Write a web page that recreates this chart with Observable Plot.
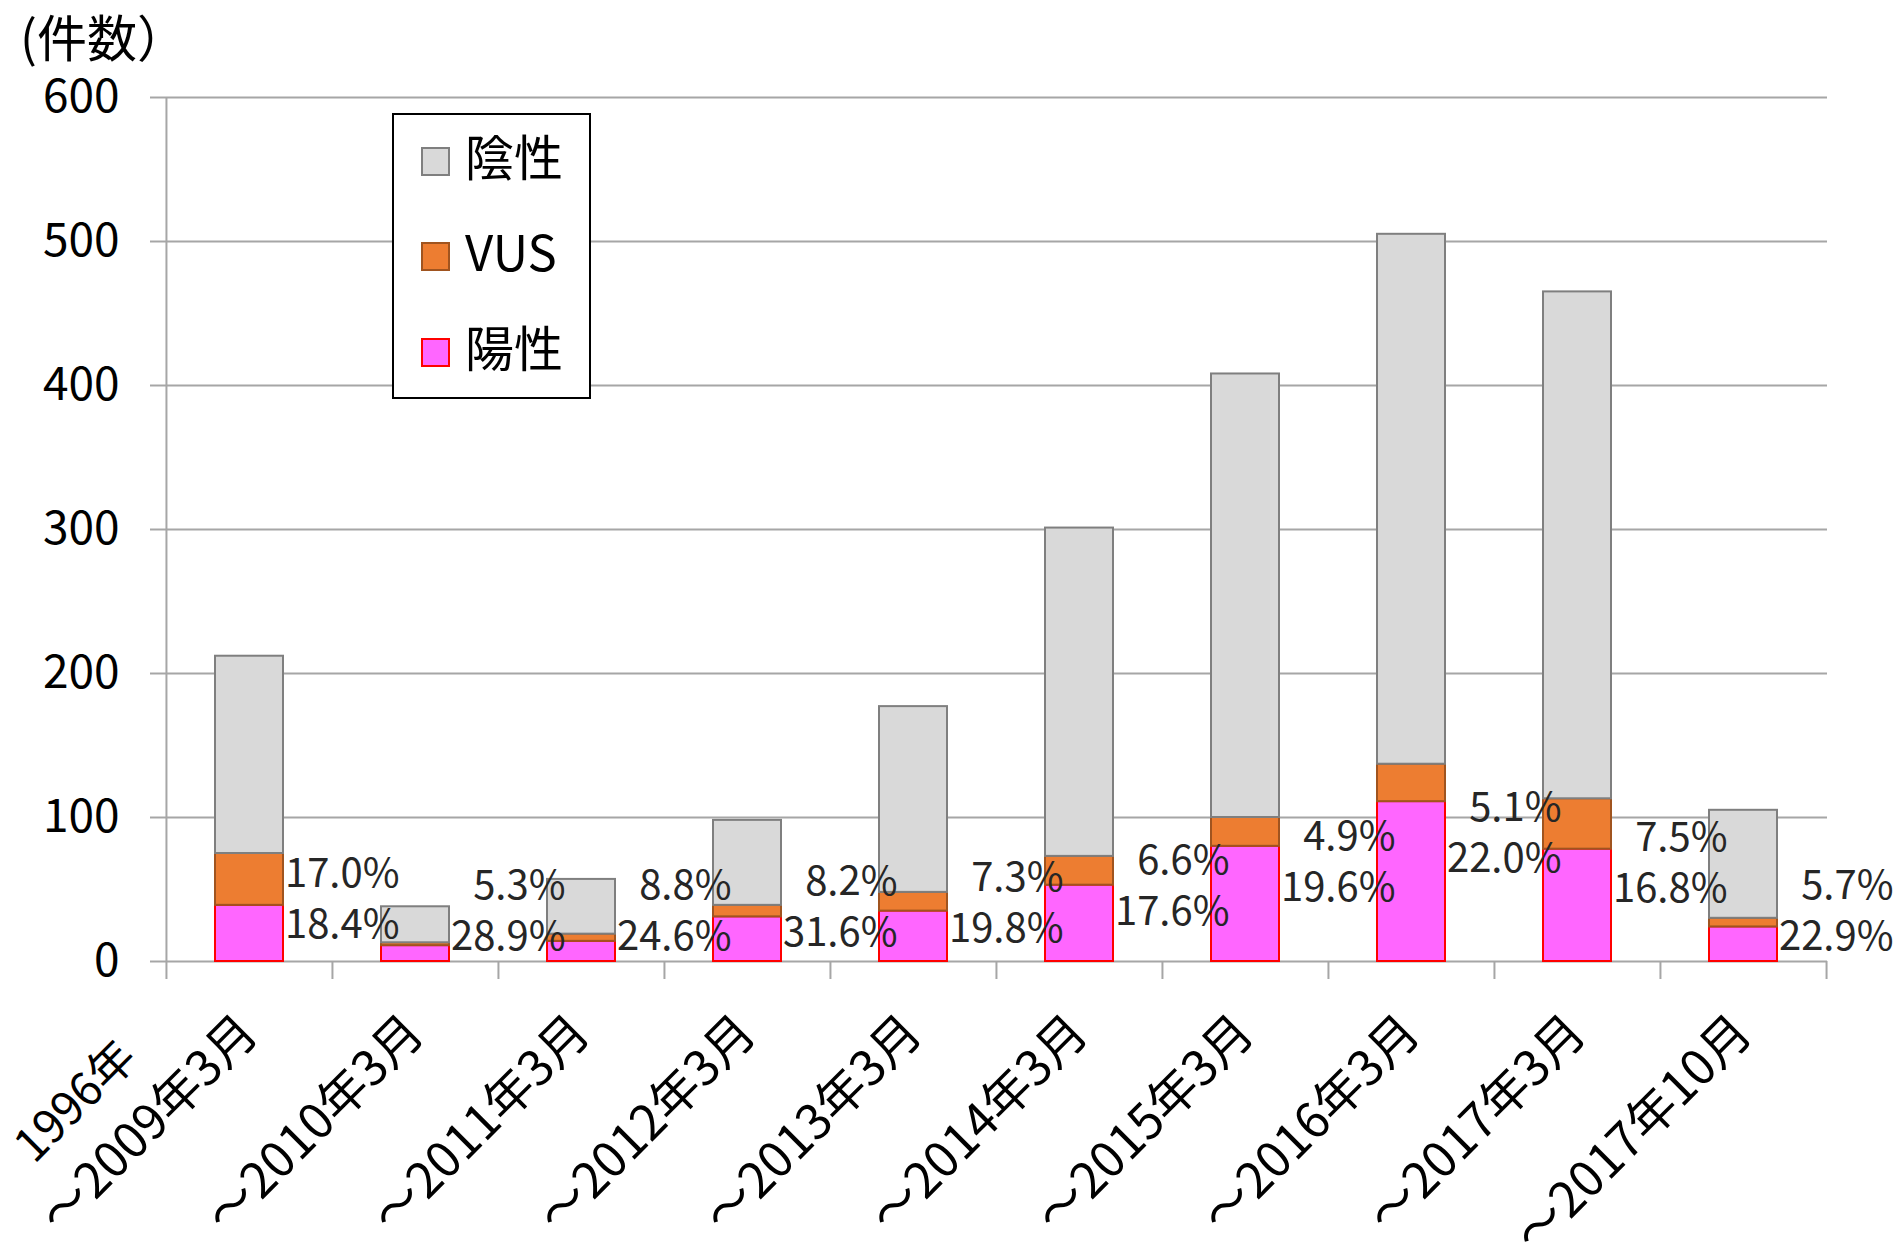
<!DOCTYPE html>
<html>
<head>
<meta charset="utf-8">
<script src="https://cdn.jsdelivr.net/npm/d3@7"></script>
<script src="https://cdn.jsdelivr.net/npm/@observablehq/plot@0.6"></script>
<style>
  html, body { margin: 0; padding: 0; background: #fff; overflow: hidden; }
  #wrap { position: relative; width: 1903px; height: 1244px; font-family: "Noto Sans CJK JP", "Noto Sans", sans-serif; color: #000; }
  #chart { position: absolute; left: 0; top: 0; }
  #unit { position: absolute; left: 20px; top: 7px; font-size: 50px; line-height: 56px; white-space: nowrap; }
  #legend { position: absolute; left: 392px; top: 113px; width: 199px; height: 286px; box-sizing: border-box; border: 2px solid #000; background: #fff; }
  .lrow { position: absolute; left: 27px; height: 60px; display: flex; align-items: center; }
  .sw { width: 29px; height: 29px; box-sizing: border-box; border: 2px solid; margin-right: 15px; }
  .lt { font-size: 49px; line-height: 60px; white-space: nowrap; position: relative; top: -6px; }
</style>
</head>
<body>
<div id="wrap">
  <div id="chart"></div>
  <div id="unit"></div>
  <div id="legend"></div>
</div>
<script>
// ---- data ----
const categories = ["～2009年3月", "～2010年3月", "～2011年3月", "～2012年3月", "～2013年3月",
                    "～2014年3月", "～2015年3月", "～2016年3月", "～2017年3月", "～2017年10月"];
const firstLabelPrefix = "1996年";
const seriesNames = ["陽性", "VUS", "陰性"];
const positive = [39, 11, 14, 31, 35, 53, 80, 111, 78, 24];
const vus      = [36,  2,  5,  8, 13, 20, 20,  26, 35,  6];
const negative = [137, 25, 38, 59, 129, 228, 308, 368, 352, 75];
const positivePct = ["18.4%", "28.9%", "24.6%", "31.6%", "19.8%", "17.6%", "19.6%", "22.0%", "16.8%", "22.9%"];
const vusPct      = ["17.0%", "5.3%", "8.8%", "8.2%", "7.3%", "6.6%", "4.9%", "5.1%", "7.5%", "5.7%"];
const yTicks = [0, 100, 200, 300, 400, 500, 600];
const unitLabel = "(件数）";

// ---- styles ----
const fills   = {"陽性": "#FF66FF", "VUS": "#ED7D31", "陰性": "#D9D9D9"};
const strokes = {"陽性": "#FF0000", "VUS": "#A0541F", "陰性": "#7F7F7F"};
const gridColor = "#A6A6A6";
const font = '"Noto Sans CJK JP", "Noto Sans", sans-serif';

// ---- layout ----
const W = 1903, H = 1244, ML = 166, MR = 76, MT = 97, MB = 283;
const step = (W - ML - MR) / categories.length;

const valuesBySeries = {"陽性": positive, "VUS": vus, "陰性": negative};
const rows = [];
categories.forEach((c, i) => {
  seriesNames.forEach(s => rows.push({cat: c, series: s, value: valuesBySeries[s][i]}));
});

const labelLevel = (i) => Math.max(positive[i] * 0.64, 17);

const chart = Plot.plot({
  width: W, height: H,
  marginLeft: ML, marginRight: MR, marginTop: MT, marginBottom: MB,
  style: {fontFamily: font, background: "transparent", color: "#000", overflow: "visible"},
  x: {type: "band", domain: categories, paddingInner: 0.59, paddingOuter: 0.295, axis: null},
  y: {domain: [0, 600], axis: null},
  color: {type: "identity"},
  marks: [
    Plot.gridY(yTicks, {stroke: gridColor, strokeOpacity: 1, strokeWidth: 2}),
    Plot.axisY(yTicks, {tickSize: 16, tickPadding: 31, stroke: gridColor, strokeWidth: 2, fontSize: 46, fill: "#000", label: null}),
    // left axis line
    Plot.ruleX([categories[0]], {x: d => d, dx: -step / 2, y1: 0, y2: 600, stroke: gridColor, strokeWidth: 2}),
    // category boundary ticks
    Plot.ruleX(categories, {x: d => d, dx: -step / 2, y1: 0, y2: 0, insetBottom: -18, stroke: gridColor, strokeWidth: 2}),
    Plot.ruleX([categories[categories.length - 1]], {x: d => d, dx: step / 2, y1: 0, y2: 0, insetBottom: -18, stroke: gridColor, strokeWidth: 2}),
    // stacked bars
    Plot.barY(rows, {x: "cat", y: "value", z: "series", fill: d => fills[d.series], stroke: d => strokes[d.series], strokeWidth: 2}),
    // percentage labels
    Plot.text(categories, {x: d => d, y: (d, i) => labelLevel(i), text: (d, i) => positivePct[i], dx: 150, textAnchor: "end", fontSize: 40, fill: "#262626"}),
    Plot.text(categories, {x: d => d, y: (d, i) => labelLevel(i), text: (d, i) => vusPct[i], dx: 150, dy: -51, textAnchor: "end", fontSize: 40, fill: "#262626"}),
    // x labels (rotated)
    Plot.text(categories, {x: d => d, frameAnchor: "bottom", text: d => d, rotate: -45, textAnchor: "end", lineAnchor: "middle", dy: 63, fontSize: 49, fill: "#000"}),
    Plot.text([categories[0]], {x: d => d, frameAnchor: "bottom", text: () => firstLabelPrefix, rotate: -45, textAnchor: "end", lineAnchor: "middle", dx: -121, dy: 88, fontSize: 46, fill: "#000"})
  ]
});
document.getElementById("chart").appendChild(chart);

document.getElementById("unit").textContent = unitLabel;

// legend (top to bottom: 陰性, VUS, 陽性)
const legend = document.getElementById("legend");
const legendOrder = seriesNames.slice().reverse();
const rowCenters = [46, 141, 237];
legendOrder.forEach((s, k) => {
  const row = document.createElement("div");
  row.className = "lrow";
  row.style.top = (rowCenters[k] - 30) + "px";
  const sw = document.createElement("div");
  sw.className = "sw";
  sw.style.background = fills[s];
  sw.style.borderColor = strokes[s];
  const t = document.createElement("div");
  t.className = "lt";
  t.textContent = s;
  row.appendChild(sw); row.appendChild(t);
  legend.appendChild(row);
});
</script>
</body>
</html>
